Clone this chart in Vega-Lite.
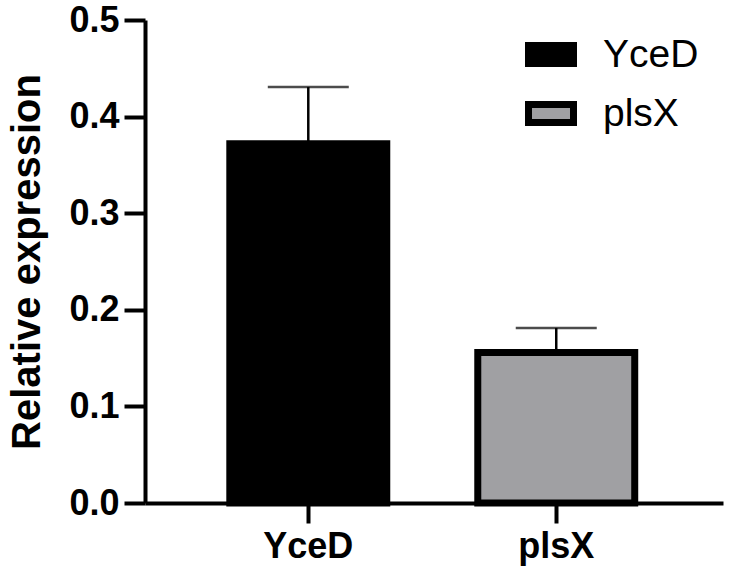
{
  "$schema": "https://vega.github.io/schema/vega-lite/v6.json",
  "autosize": "none",
  "padding": {"left": 145, "top": 20, "right": 10, "bottom": 75},
  "width": 578,
  "height": 483,
  "background": "white",
  "view": {"stroke": null},
  "data": {
    "values": [
      {"gene": "YceD", "mean": 0.372, "upper": 0.4306},
      {"gene": "plsX", "mean": 0.1558, "upper": 0.1812}
    ]
  },
  "encoding": {
    "x": {
      "field": "gene",
      "type": "nominal",
      "sort": ["YceD", "plsX"],
      "scale": {"paddingInner": 0.367, "paddingOuter": 0.349, "align": 0.49},
      "axis": {
        "title": null,
        "labelAngle": 0,
        "grid": false,
        "domainColor": "black",
        "domainWidth": 4,
        "tickColor": "black",
        "tickWidth": 4,
        "tickSize": 20,
        "labelFont": "Liberation Sans",
        "labelFontWeight": "bold",
        "labelFontSize": 36,
        "labelColor": "black",
        "labelPadding": 6,
        "zindex": 1
      }
    }
  },
  "layer": [
    {
      "mark": {"type": "bar", "stroke": "black", "strokeWidth": 7, "opacity": 1},
      "encoding": {
        "y": {
          "field": "mean",
          "type": "quantitative",
          "scale": {"domain": [0, 0.5], "nice": false},
          "axis": {
            "title": "Relative expression",
            "values": [0, 0.1, 0.2, 0.3, 0.4, 0.5],
            "format": ".1f",
            "grid": false,
            "domainColor": "black",
            "domainWidth": 4,
            "tickColor": "black",
            "tickWidth": 4,
            "tickSize": 21,
            "labelFont": "Liberation Sans",
            "labelFontWeight": "bold",
            "labelFontSize": 36,
            "labelColor": "black",
            "labelPadding": 5,
            "titleFont": "Liberation Sans",
            "titleFontWeight": "bold",
            "titleFontSize": 40,
            "titleColor": "black",
            "titlePadding": 21,
            "zindex": 1
          }
        },
        "color": {
          "field": "gene",
          "type": "nominal",
          "scale": {"domain": ["YceD", "plsX"], "range": ["#000000", "#a0a0a3"]},
          "legend": {
            "title": null,
            "orient": "none",
            "legendX": 380,
            "legendY": 8.5,
            "padding": 0,
            "symbolType": "M-1,-0.4H1V0.4H-1Z",
            "symbolSize": 2025,
            "symbolStrokeColor": "black",
            "symbolStrokeWidth": 7,
            "symbolOpacity": 1,
            "labelFont": "Liberation Sans",
            "labelFontSize": 39,
            "labelColor": "black",
            "labelOffset": 26,
            "rowPadding": 10
          }
        }
      }
    },
    {
      "mark": {"type": "rule", "color": "black", "strokeWidth": 2.5},
      "encoding": {
        "y": {"field": "mean", "type": "quantitative"},
        "y2": {"field": "upper"}
      }
    },
    {
      "mark": {"type": "tick", "color": "black", "thickness": 2.5, "size": 81, "orient": "horizontal"},
      "encoding": {
        "y": {"field": "upper", "type": "quantitative"}
      }
    }
  ]
}
